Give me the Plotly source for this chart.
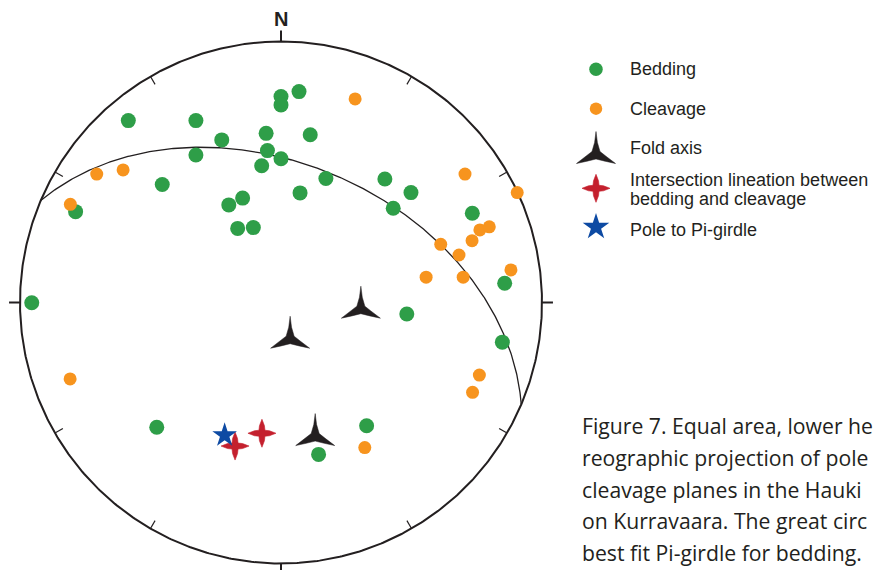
import numpy as np
import plotly.graph_objects as go

# ---- Data: poles plotted on a lower-hemisphere equal-area net ----
# positions are east / north in units of the primitive circle radius
bedding_x = [-0.585, -0.326, -0.227, -0.057, 0.000, 0.000, 0.069, 0.112, -0.052, 0.000,
             -0.074, -0.326, -0.455, 0.172, 0.398, 0.073, 0.498, -0.147, -0.200, -0.166,
             -0.106, -0.787, -0.955, 0.430, 0.733, 0.857, 0.482, 0.848, -0.476, 0.328, 0.144]
bedding_y = [0.697, 0.697, 0.623, 0.648, 0.789, 0.757, 0.808, 0.643, 0.582, 0.551,
             0.524, 0.565, 0.452, 0.475, 0.473, 0.420, 0.421, 0.400, 0.374, 0.284,
             0.287, 0.348, -0.001, 0.361, 0.342, 0.074, -0.044, -0.152, -0.478, -0.472, -0.582]

cleavage_x = [0.284, -0.706, -0.605, 0.705, 0.905, -0.807, 0.762, 0.798, 0.612, 0.682,
              0.732, 0.881, 0.556, 0.698, 0.760, 0.734, -0.808, 0.321]
cleavage_y = [0.780, 0.492, 0.508, 0.492, 0.421, 0.376, 0.278, 0.290, 0.223, 0.182,
              0.237, 0.125, 0.097, 0.097, -0.278, -0.344, -0.293, -0.556]

fold_axis_x = [0.306, 0.035, 0.131]
fold_axis_y = [-0.018, -0.133, -0.506]

intersection_x = [-0.176, -0.073]
intersection_y = [-0.550, -0.501]

# best-fit Pi-girdle for bedding (dip direction, dip in degrees)
girdle_dip_direction = 23
girdle_dip = 46

legend_labels = ["Bedding", "Cleavage", "Fold axis",
                 ["Intersection lineation between", "bedding and cleavage"],
                 "Pole to Pi-girdle"]

# caption as it runs off the right edge of the page
caption_lines = [
    "Figure 7. Equal area, lower he",
    "reographic projection of pole",
    "cleavage planes in the Hauki",
    "on Kurravaara. The great circ",
    "best fit Pi-girdle for bedding.",
]

# ---- Styling ----
GREEN = "#2e9e48"
ORANGE = "#f7941e"
RED = "#c4202e"
BLUE = "#0d4aa3"
INK = "#231f20"

W, H = 875, 570
CX, CY, R = 281.0, 302.5, 261.0   # net centre and radius on the page

# glyph outlines in screen pixels around the plotted point (y down)
FOLD_GLYPH = np.array([
    (0, -21), (-1.4, -10), (-4, -1), (-10, 3.8), (-19.5, 11), (-9, 8.7), (0, 6.5),
    (9, 8.7), (19.5, 11), (10, 3.8), (4, -1), (1.4, -10), (0, -21)])
LINEATION_GLYPH = np.array([
    (14, 0), (7.5, 2.5), (3, 3), (2.5, 7.5), (0, 14), (-2.5, 7.5), (-3, 3), (-7.5, 2.5),
    (-14, 0), (-7.5, -2.5), (-3, -3), (-2.5, -7.5), (0, -14), (2.5, -7.5), (3, -3),
    (7.5, -2.5), (14, 0)])


def project(trend_deg, plunge_deg):
    """Lambert equal-area projection (lower hemisphere), unit primitive."""
    t = np.radians(trend_deg)
    p = np.radians(plunge_deg)
    d = np.sin(p)
    e = np.cos(p) * np.sin(t)
    n = np.cos(p) * np.cos(t)
    k = 1.0 / np.sqrt(1.0 + d)
    return e * k, n * k


def glyph_path(xs, ys, glyph, scale):
    """Place a glyph outline at each point; scale converts px to axis units."""
    gx, gy = [], []
    for x0, y0 in zip(xs, ys):
        gx += list(x0 + glyph[:, 0] * scale[0]) + [None]
        gy += list(y0 + glyph[:, 1] * scale[1]) + [None]
    return gx, gy


# great circle of the girdle plane
dd = np.radians(girdle_dip_direction)
dip = np.radians(girdle_dip)
strike_vec = np.array([np.sin(dd - np.pi / 2), np.cos(dd - np.pi / 2), 0.0])
dip_vec = np.array([np.sin(dd) * np.cos(dip), np.cos(dd) * np.cos(dip), np.sin(dip)])
ang = np.radians(np.linspace(0, 180, 361))
vec = np.outer(np.cos(ang), strike_vec) + np.outer(np.sin(ang), dip_vec)
gk = 1.0 / np.sqrt(1.0 + vec[:, 2])
gc_x, gc_y = vec[:, 0] * gk, vec[:, 1] * gk

# pole to the girdle
pole_x, pole_y = project(girdle_dip_direction + 180, 90 - girdle_dip)

fig = go.Figure()

# primitive circle
theta = np.radians(np.linspace(0, 360, 721))
fig.add_trace(go.Scatter(x=np.sin(theta), y=np.cos(theta), mode="lines",
                         line=dict(color=INK, width=2), hoverinfo="skip"))

# outer ticks at N, E, S, W and inner ticks every 30 degrees
tx, ty, ix, iy = [], [], [], []
for az in range(0, 360, 30):
    a = np.radians(az)
    s, c = np.sin(a), np.cos(a)
    if az % 90 == 0:
        tx += [s, s * 1.042, None]
        ty += [c, c * 1.042, None]
    else:
        ix += [s, s * 0.965, None]
        iy += [c, c * 0.965, None]
fig.add_trace(go.Scatter(x=tx, y=ty, mode="lines", line=dict(color=INK, width=2),
                         hoverinfo="skip"))
fig.add_trace(go.Scatter(x=ix, y=iy, mode="lines", line=dict(color=INK, width=1.2),
                         hoverinfo="skip"))

# girdle great circle
fig.add_trace(go.Scatter(x=gc_x, y=gc_y, mode="lines", line=dict(color=INK, width=1.3),
                         hoverinfo="skip"))

# data
fig.add_trace(go.Scatter(x=bedding_x, y=bedding_y, mode="markers", name="Bedding",
                         marker=dict(color=GREEN, size=15, line=dict(width=0))))
fig.add_trace(go.Scatter(x=cleavage_x, y=cleavage_y, mode="markers", name="Cleavage",
                         marker=dict(color=ORANGE, size=13, line=dict(width=0))))

unit = (1.0 / R, -1.0 / R)   # px -> net units (y flipped)
fx, fy = glyph_path(fold_axis_x, fold_axis_y, FOLD_GLYPH, unit)
fig.add_trace(go.Scatter(x=fx, y=fy, mode="lines", fill="toself", fillcolor=INK,
                         line=dict(width=0.5, color=INK), name="Fold axis", hoverinfo="skip"))
lx, ly = glyph_path(intersection_x, intersection_y, LINEATION_GLYPH, unit)
fig.add_trace(go.Scatter(x=lx, y=ly, mode="lines", fill="toself", fillcolor=RED,
                         line=dict(width=0.6, color=RED), name="Intersection lineation",
                         hoverinfo="skip"))
fig.add_trace(go.Scatter(x=[pole_x], y=[pole_y], mode="markers", name="Pole to Pi-girdle",
                         marker=dict(color=BLUE, size=18.5, symbol="star", line=dict(width=0))))

# ---- key, drawn in a page-pixel frame ----
key_x = 596
key_rows = [69.3, 108.7, 152.5, 188.3, 227.0]
key_text_y = [69.3, 109.0, 148.3, [180.0, 198.5], 230.0]

fig.add_trace(go.Scatter(x=[key_x], y=[key_rows[0]], xaxis="x2", yaxis="y2", mode="markers",
                         marker=dict(color=GREEN, size=13.5), hoverinfo="skip"))
fig.add_trace(go.Scatter(x=[key_x], y=[key_rows[1]], xaxis="x2", yaxis="y2", mode="markers",
                         marker=dict(color=ORANGE, size=12.5), hoverinfo="skip"))
kx, ky = glyph_path([key_x], [key_rows[2]], FOLD_GLYPH, (1.0, 1.0))
fig.add_trace(go.Scatter(x=kx, y=ky, xaxis="x2", yaxis="y2", mode="lines", fill="toself",
                         fillcolor=INK, line=dict(width=0.5, color=INK), hoverinfo="skip"))
kx, ky = glyph_path([key_x], [key_rows[3]], LINEATION_GLYPH, (1.0, 1.0))
fig.add_trace(go.Scatter(x=kx, y=ky, xaxis="x2", yaxis="y2", mode="lines", fill="toself",
                         fillcolor=RED, line=dict(width=0.6, color=RED), hoverinfo="skip"))
fig.add_trace(go.Scatter(x=[key_x], y=[key_rows[4]], xaxis="x2", yaxis="y2", mode="markers",
                         marker=dict(color=BLUE, size=20, symbol="star", line=dict(width=0)),
                         hoverinfo="skip"))

annotations = []
for label, ty_ in zip(legend_labels, key_text_y):
    labels = label if isinstance(label, list) else [label]
    ys = ty_ if isinstance(ty_, list) else [ty_]
    for txt, yy in zip(labels, ys):
        annotations.append(dict(x=627.5, y=yy, xref="x2", yref="y2", text=txt,
                                showarrow=False, xanchor="left", yanchor="middle",
                                font=dict(family="Liberation Sans, Arial", size=18, color=INK)))

# north label
annotations.append(dict(x=0, y=(CY - 18.5) / R, xref="x", yref="y", text="<b>N</b>",
                        showarrow=False, xanchor="center", yanchor="middle",
                        font=dict(family="Liberation Sans, Arial", size=20, color=INK)))

# caption
for i, line in enumerate(caption_lines):
    annotations.append(dict(x=580, y=425.6 + 31.7 * i, xref="x2", yref="y2", text=line,
                            showarrow=False, xanchor="left", yanchor="middle",
                            font=dict(family="Open Sans", size=21.2, color=INK)))

hidden = dict(visible=False, showgrid=False, zeroline=False, fixedrange=True)
fig.update_layout(
    width=W, height=H,
    margin=dict(l=0, r=0, t=0, b=0),
    paper_bgcolor="white", plot_bgcolor="rgba(0,0,0,0)",
    showlegend=False,
    xaxis=dict(range=[-CX / R, (W - CX) / R], domain=[0, 1], **hidden),
    yaxis=dict(range=[-(H - CY) / R, CY / R], domain=[0, 1], **hidden),
    xaxis2=dict(range=[0, W], overlaying="x", anchor="y2", **hidden),
    yaxis2=dict(range=[H, 0], overlaying="y", anchor="x2", **hidden),
    annotations=annotations,
)

fig.write_html("out.html")
